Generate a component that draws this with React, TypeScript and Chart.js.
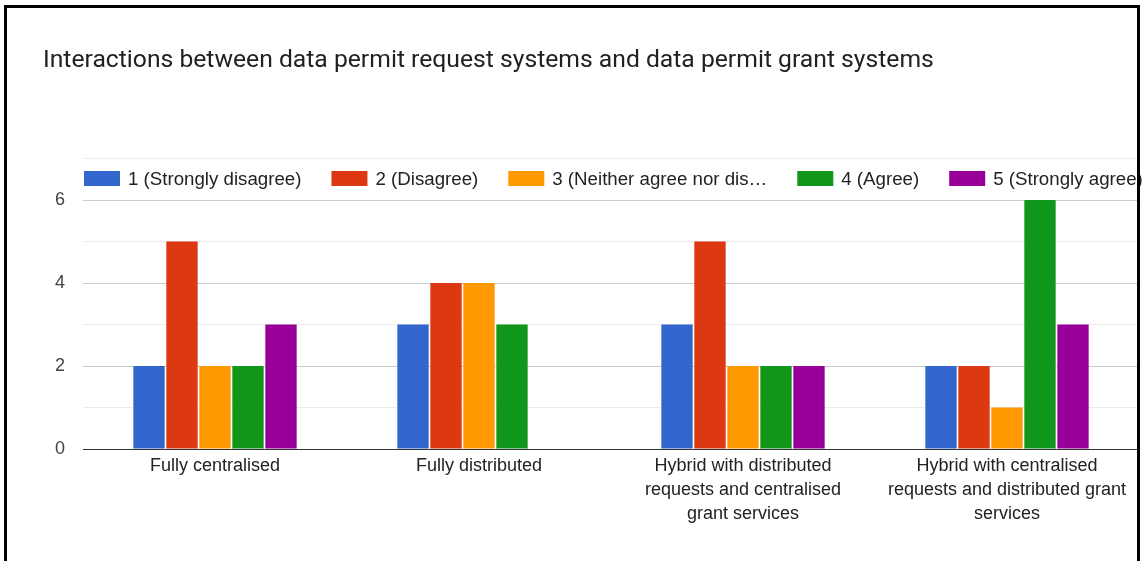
import React, { useEffect, useRef } from 'react';
import { Chart, registerables } from 'chart.js';

Chart.register(...registerables);

const chartTitle = 'Interactions between data permit request systems and data permit grant systems';
const categories: (string | string[])[] = [
  'Fully centralised',
  'Fully distributed',
  ['Hybrid with distributed', 'requests and centralised', 'grant services'],
  ['Hybrid with centralised', 'requests and distributed grant', 'services'],
];
const seriesLabels = [
  '1 (Strongly disagree)',
  '2 (Disagree)',
  '3 (Neither agree nor dis…',
  '4 (Agree)',
  '5 (Strongly agree)',
];
const stronglyDisagree = [2, 3, 3, 2];
const disagree = [5, 4, 5, 2];
const neutral = [2, 4, 2, 1];
const agree = [2, 3, 2, 6];
const stronglyAgree = [3, 0, 2, 3];
const seriesColors = ['#3366cc', '#dc3912', '#ff9900', '#109618', '#990099'];
const yMin = 0;
const yMax = 7;
const yStep = 1;
const yLabelEvery = 2;

const FONT = '"Liberation Sans", Arial, sans-serif';

const legendPlugin = {
  id: 'inlineLegend',
  afterDraw(chart: any) {
    const { ctx, chartArea, scales } = chart;
    const y = (scales.y.getPixelForValue(yMax) + scales.y.getPixelForValue(yMax - 1)) / 2;
    ctx.save();
    ctx.font = `18.7px ${FONT}`;
    ctx.textBaseline = 'middle';
    ctx.textAlign = 'left';
    let x = chartArea.left + 1;
    chart.data.datasets.forEach((ds: any) => {
      ctx.fillStyle = ds.backgroundColor;
      ctx.fillRect(x, Math.round(y - 8.5), 36, 15);
      x += 36 + 8;
      ctx.fillStyle = '#222222';
      ctx.fillText(ds.label, x, y + 0.5);
      x += ctx.measureText(ds.label).width + 30;
    });
    ctx.restore();
  },
};

export default function App() {
  const canvasRef = useRef<HTMLCanvasElement | null>(null);

  useEffect(() => {
    document.body.style.margin = '0';
    const canvas = canvasRef.current;
    if (!canvas) return;
    const seriesValues = [stronglyDisagree, disagree, neutral, agree, stronglyAgree];
    const chart = new Chart(canvas, {
      type: 'bar',
      data: {
        labels: categories,
        datasets: seriesLabels.map((label, i) => ({
          label,
          data: seriesValues[i],
          backgroundColor: seriesColors[i],
          borderWidth: 0,
          categoryPercentage: 0.625,
          barPercentage: 0.95,
        })),
      },
      options: {
        animation: false,
        responsive: false,
        devicePixelRatio: 1,
        layout: { padding: { left: 43, right: 3, top: 0, bottom: 0 } },
        plugins: {
          legend: { display: false },
          tooltip: { enabled: false },
          title: {
            display: true,
            text: chartTitle,
            align: 'start',
            color: '#202124',
            font: { family: 'Roboto', size: 24.7, weight: 'normal', lineHeight: 1.2 },
            padding: { top: 46.4, bottom: 82.5 },
          },
        },
        scales: {
          x: {
            grid: { display: false, drawTicks: false },
            border: { display: true, color: '#333333', width: 1 },
            ticks: {
              color: '#222222',
              font: { family: FONT, size: 18, lineHeight: 1.333 },
              padding: 5,
              maxRotation: 0,
              autoSkip: false,
            },
            afterFit: (scale: any) => {
              scale.height = 112;
            },
          },
          y: {
            min: yMin,
            max: yMax,
            border: { display: false },
            grid: {
              drawTicks: false,
              color: (c: any) =>
                c.tick && c.tick.value === 0 ? '#333333' : c.tick && c.tick.value % yLabelEvery === 0 ? '#cccccc' : '#ebebeb',
            },
            ticks: {
              stepSize: yStep,
              color: '#444444',
              padding: 18,
              font: { family: FONT, size: 18 },
              callback: (v: any) => (Number(v) % yLabelEvery === 0 ? String(v) : ''),
            },
            afterFit: (scale: any) => {
              scale.width = 40;
            },
          },
        },
      },
      plugins: [legendPlugin],
    });
    return () => chart.destroy();
  }, []);

  return (
    <div style={{ position: 'fixed', left: 0, top: 0, width: 1142, height: 561, overflow: 'hidden', background: '#fff' }}>
      <canvas ref={canvasRef} width={1142} height={561} style={{ position: 'absolute', left: 0, top: 0, display: 'block' }} />
      <div
        style={{
          position: 'absolute',
          left: 4,
          top: 5,
          width: 1130,
          height: 700,
          border: '3px solid #000',
          pointerEvents: 'none',
        }}
      />
    </div>
  );
}
